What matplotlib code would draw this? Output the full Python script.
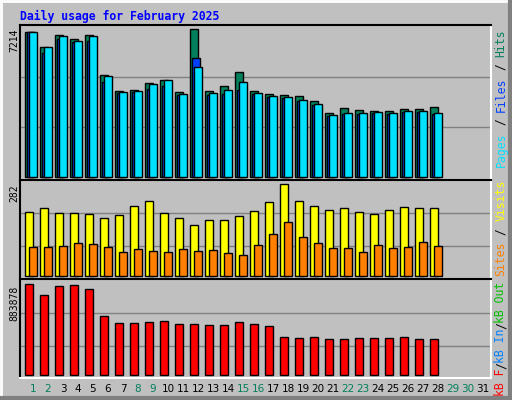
import matplotlib
matplotlib.use("Agg")
import matplotlib.pyplot as plt
from matplotlib.lines import Line2D

days = list(range(1, 29))
hits = [7214, 6465, 7079, 6864, 7079, 5066, 4282, 4332, 4666, 4831, 4217, 7364, 4282, 4516,
        5231, 4282, 4132, 4082, 4032, 3782, 3182, 3432, 3332, 3282, 3282, 3382, 3382, 3482]
files = [7214, 6180, 6880, 6730, 6795, 4731, 4167, 4232, 4382, 4531, 4067, 5915, 4067, 4132,
         4332, 4132, 3982, 3932, 3782, 3582, 3033, 3133, 3133, 3182, 3133, 3232, 3232, 3133]
pages = [7214, 6465, 7029, 6780, 7029, 5016, 4217, 4282, 4616, 4831, 4117, 5466, 4167, 4332,
         4716, 4167, 4032, 3982, 3832, 3632, 3083, 3182, 3182, 3232, 3182, 3282, 3282, 3182]
visits = [196, 208, 193, 193, 190, 178, 187, 215, 230, 193, 178, 156, 172, 172,
          184, 199, 227, 282, 230, 215, 202, 208, 196, 190, 202, 211, 208, 208]
sites = [89, 89, 92, 101, 98, 89, 74, 83, 77, 74, 83, 77, 80, 70,
         64, 95, 129, 166, 120, 101, 86, 86, 74, 95, 86, 89, 104, 92]
kbytes = [883878, 777040, 864457, 874170, 835318, 573067, 505076, 505076, 514789, 524502,
          495363, 495363, 485650, 485650, 514789, 495363, 475937, 369094, 359381, 369094,
          349668, 349668, 359381, 359381, 359381, 369094, 349668, 349668]
day_labels = [str(d) for d in range(1, 32)]
weekend = {1, 2, 8, 9, 15, 16, 22, 23, 29, 30}

BG = "#C0C0C0"
W, H = 512, 400
fig = plt.figure(figsize=(W / 100, H / 100), dpi=100, facecolor=BG)

def px_axes(y0, y1):
    ax = fig.add_axes([20.3 / W, 1 - y1 / H, 471 / W, (y1 - y0) / H])
    ax.set_facecolor(BG)
    ax.set_xlim(2 / 3, 2 / 3 + 471 / 15)
    ax.set_xticks([]); ax.set_yticks([])
    for s in ax.spines.values():
        s.set_linewidth(1.5)
    ax.spines["bottom"].set_color("white")
    ax.spines["right"].set_color("white")
    ax.spines["top"].set_color("black")
    ax.spines["left"].set_color("black")
    return ax

mono = "DejaVu Sans Mono"
bw = 0.5
ekw = dict(edgecolor="black", linewidth=1.0, align="edge", width=bw, zorder=3)

a1 = px_axes(25, 180)
a1.set_ylim(-165, 7579)
for g in (2468, 4996):
    a1.axhline(g, color="#808080", lw=1, zorder=1)
a1.bar(days, hits, color="#00805C", **ekw)
a1.bar([d + 2 / 15 for d in days], files, color="#0040FF", **ekw)
a1.bar([d + 4 / 15 for d in days], pages, color="#00E0FF", **ekw)

a2 = px_axes(180, 279)
a2.set_ylim(-8.3, 295.2)
for g in (92, 193):
    a2.axhline(g, color="#808080", lw=1, zorder=1)
a2.bar(days, visits, color="#FFFF00", **ekw)
a2.bar([d + 4 / 15 for d in days], sites, color="#FF8000", **ekw)

a3 = px_axes(279, 378)
a3.set_ylim(-26225, 935362)
for g in (287505, 602206):
    a3.axhline(g, color="#808080", lw=1, zorder=1)
a3.bar(days, kbytes, color="#FF0000", **ekw)

fig.text(20 / W, 1 - 16 / H, "Daily usage for February 2025", color="#0000FF",
         family=mono, weight="bold", fontsize=8.3, va="center", ha="left")

fig.text(14 / W, 1 - 40 / H, "7214", rotation=90, family=mono, fontsize=7, ha="center", va="center")
fig.text(14 / W, 1 - 193 / H, "282", rotation=90, family=mono, fontsize=7, ha="center", va="center")
fig.text(14 / W, 1 - 303 / H, "883878", rotation=90, family=mono, fontsize=7, ha="center", va="center")

def right_legend(parts, ycenter, fs, cw):
    total = sum(len(p[0]) for p in parts)
    y = ycenter + total * cw / 2
    for txt, col in parts:
        n = len(txt)
        fig.text(501 / W, 1 - (y - n * cw / 2) / H, txt, rotation=90, family=mono,
                 fontsize=fs, color=col, ha="center", va="center")
        y -= n * cw

right_legend([("Pages", "#00E0FF"), (" / ", "black"), ("Files", "#0040FF"),
              (" / ", "black"), ("Hits", "#00805C")], 98, 8.3, 6.9)
right_legend([("Sites", "#FF8000"), (" / ", "black"), ("Visits", "#FFFF00")], 228, 8.3, 6.9)
right_legend([("kB F", "#FF0000"), ("/", "black"), ("kB In", "#0080FF"), ("/", "black"),
              ("kB Out", "#00C000")], 339, 8.3, 6.6)

for i, lab in enumerate(day_labels):
    d = i + 1
    xpx = 33 + 15 * (d - 1)
    fig.text(xpx / W, 1 - 389 / H, lab, color="#00805C" if d in weekend else "black",
             fontsize=7.5, ha="center", va="center")

fig.add_artist(Line2D([0, 1], [1 - 1 / H, 1 - 1 / H], color="white", lw=2, transform=fig.transFigure))
fig.add_artist(Line2D([1 / W, 1 / W], [0, 1], color="white", lw=2, transform=fig.transFigure))
fig.add_artist(Line2D([0, 1], [2 / H, 2 / H], color="#808080", lw=3, transform=fig.transFigure))
fig.add_artist(Line2D([1 - 2 / W, 1 - 2 / W], [0, 1], color="#808080", lw=3, transform=fig.transFigure))

fig.savefig("out.png", dpi=100, facecolor=BG)
